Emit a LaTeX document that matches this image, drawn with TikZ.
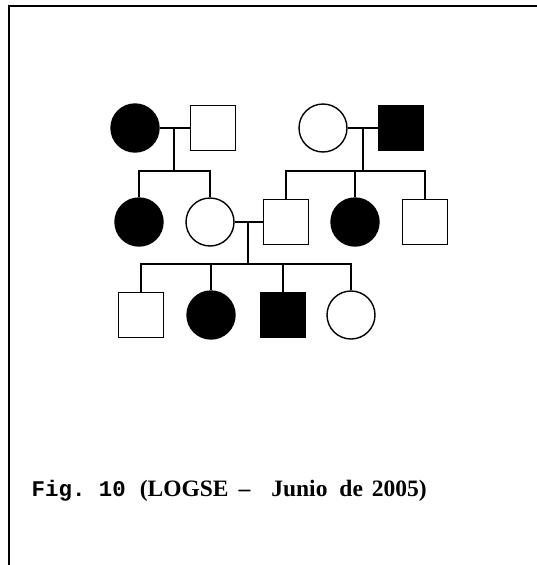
\documentclass[tikz,border=0pt]{standalone}
\usepackage{fontspec}
\setmainfont{Liberation Serif}
\newfontfamily\courierbf{Liberation Mono}
\begin{document}
\begin{tikzpicture}[x=1pt,y=-1pt,
  line width=1.4pt,
  fem/.style={circle,draw,minimum size=48pt,inner sep=0pt,line width=1.4pt},
  mal/.style={rectangle,draw,minimum size=45pt,inner sep=0pt,line width=1.4pt},
  aff/.style={fill=black},
  lnk/.style={line width=1.4pt}]
\useasboundingbox (0,0) rectangle (537,565);
\draw[line width=2pt] (537,6) -- (9,6) -- (9,565);
% generation 1
\node[fem,aff] (a1) at (135,128) {};
\node[mal] (a2) at (213,128) {};
\node[fem] (b1) at (323,128) {};
\node[mal,aff] (b2) at (401,128) {};
% generation 2
\node[fem,aff] (c1) at (139,222) {};
\node[fem] (c2) at (210,222) {};
\node[mal] (d1) at (286,222) {};
\node[fem,aff] (d2) at (355,222) {};
\node[mal] (d3) at (425,222) {};
% generation 3
\node[mal] (e1) at (141,315) {};
\node[fem,aff] (e2) at (211,315) {};
\node[mal,aff] (e3) at (283,315) {};
\node[fem] (e4) at (351,315) {};
% family A
\coordinate (ma) at (174,128);
\coordinate (sa) at (174,171);
\draw[lnk] (a1.east) -- (a2.west);
\draw[lnk] (ma) -- (sa);
\draw[lnk] (c1.north) -- (c1.north |- sa) -- (c2.north |- sa) -- (c2.north);
% family B
\coordinate (mb) at (363,128);
\coordinate (sb) at (363,171);
\draw[lnk] (b1.east) -- (b2.west);
\draw[lnk] (mb) -- (sb);
\draw[lnk] (d1.north) -- (d1.north |- sb) -- (d3.north |- sb) -- (d3.north);
\draw[lnk] (d2.north) -- (d2.north |- sb);
% family C
\coordinate (mc) at (248,222);
\coordinate (sc) at (248,264);
\draw[lnk] (c2.east) -- (d1.west);
\draw[lnk] (mc) -- (sc);
\draw[lnk] (e1.north) -- (e1.north |- sc) -- (e4.north |- sc) -- (e4.north);
\draw[lnk] (e2.north) -- (e2.north |- sc);
\draw[lnk] (e3.north) -- (e3.north |- sc);
% caption
\node[anchor=base west,inner sep=0pt,font=\bfseries] (cap) at (31,496)
  {{\fontsize{22.4}{26}\selectfont\courierbf Fig.\ 10}\hspace*{14pt}{\fontsize{23.5}{26}\selectfont (LOGSE\hspace*{10pt}--\hspace*{21pt}Junio\hspace*{12pt}de\hspace*{9pt}2005)}};
\end{tikzpicture}
\end{document}
